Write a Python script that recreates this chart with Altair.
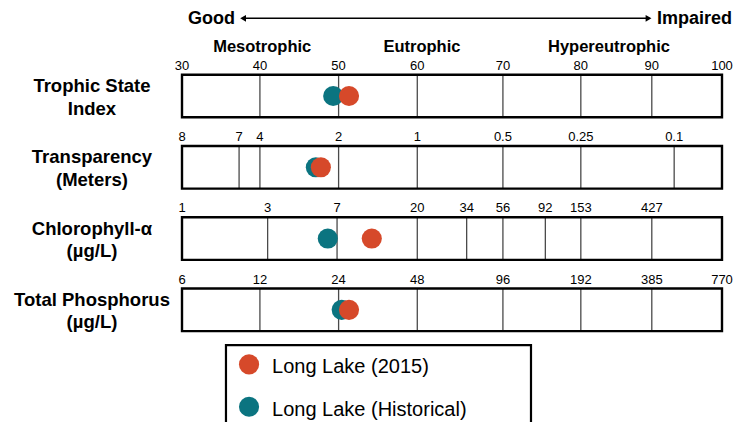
import altair as alt
import pandas as pd

# ---------------- data ----------------
row_titles = [["Trophic State", "Index"], ["Transparency", "(Meters)"],
              ["Chlorophyll-α", "(µg/L)"], ["Total Phosphorus", "(µg/L)"]]

tsi_labels = ["30", "40", "50", "60", "70", "80", "90", "100"]
tsi_pos = [30, 40.1, 50.3, 60.5, 71.6, 81.7, 90.9, 100]
secchi_labels = ["8", "7", "4", "2", "1", "0.5", "0.25", "0.1"]
secchi_pos = [30, 37.4, 40.1, 50.3, 60.5, 71.6, 81.7, 93.8]
chl_labels = ["1", "3", "7", "20", "34", "56", "92", "153", "427"]
chl_pos = [30, 41.1, 50.1, 60.5, 66.9, 71.6, 77.1, 81.7, 90.9]
tp_labels = ["6", "12", "24", "48", "96", "192", "385", "770"]
tp_pos = [30, 40.1, 50.3, 60.5, 71.6, 81.7, 90.9, 100]

series = ["Long Lake (Historical)", "Long Lake (2015)"]
colors = ["#0B7480", "#D6492A"]
val_hist = [49.6, 47.35, 48.9, 50.7]
val_2015 = [51.65, 48.0, 54.6, 51.65]

classes = ["Mesotrophic", "Eutrophic", "Hypereutrophic"]
class_pos = [40.4, 61.1, 85.35]

# ---------------- tables ----------------
scale_lo, scale_hi = 30, 100
half = 0.299
XS = alt.Scale(domain=[7.444, 102.593], nice=False, zero=False)
YS = alt.Scale(domain=[-1.2347, 4.574], nice=False, zero=False, reverse=True)
FONT = "Liberation Sans"

ticks = []
for r, (labs, poss) in enumerate([(tsi_labels, tsi_pos), (secchi_labels, secchi_pos),
                                  (chl_labels, chl_pos), (tp_labels, tp_pos)]):
    for l, p in zip(labs, poss):
        ticks.append({"r": r, "label": l, "x": p, "top": r - half, "bot": r + half,
                      "inner": scale_lo < p < scale_hi})
ticks = pd.DataFrame(ticks)
inner = ticks[ticks["inner"]]

boxes = pd.DataFrame({"r": range(4), "x": [scale_lo] * 4, "x2": [scale_hi] * 4,
                      "top": [i - half for i in range(4)], "bot": [i + half for i in range(4)],
                      "title": row_titles, "tx": [18.33] * 4})

pts = []
for s, vals in zip(series, [val_hist, val_2015]):
    for r, v in enumerate(vals):
        pts.append({"r": r, "x": v, "series": s})
pts = pd.DataFrame(pts)

cls = pd.DataFrame({"x": class_pos, "r": [-0.613] * 3, "t": classes})

X = lambda f: alt.X(f, scale=XS, axis=None)
Y = lambda f: alt.Y(f, scale=YS, axis=None)
color = alt.Color("series:N", scale=alt.Scale(domain=series, range=colors), legend=None)

box_fill = alt.Chart(boxes).mark_rect(fill="white").encode(
    x=X("x:Q"), x2="x2", y=Y("top:Q"), y2="bot")
inner_lines = alt.Chart(inner).mark_rule(color="#4a4a4a", strokeWidth=1.3).encode(
    x=X("x:Q"), y=Y("top:Q"), y2="bot")
box_line = alt.Chart(boxes).mark_rect(fill=None, stroke="black", strokeWidth=2.4).encode(
    x=X("x:Q"), x2="x2", y=Y("top:Q"), y2="bot")
tick_text = alt.Chart(ticks).mark_text(font=FONT, fontSize=13, baseline="alphabetic",
                                       dy=-5, color="black").encode(
    x=X("x:Q"), y=Y("top:Q"), text="label:N")
row_text = alt.Chart(boxes).mark_text(font=FONT, fontSize=18.5, fontWeight="bold",
                                      baseline="alphabetic", dy=-4, lineHeight=22.5,
                                      align="center", color="black").encode(
    x=X("tx:Q"), y=Y("r:Q"), text="title")
class_text = alt.Chart(cls).mark_text(font=FONT, fontSize=16.5, fontWeight="bold",
                                      baseline="alphabetic", color="black").encode(
    x=X("x:Q"), y=Y("r:Q"), text="t:N")

points = alt.Chart(pts).mark_circle(size=405, opacity=1).encode(
    x=X("x:Q"), y=Y("r:Q"), color=color)

# arrow Good <-> Impaired
ends = pd.DataFrame({"x": [37.92], "x2": [90.48], "r": [-1.090]})
arrow = alt.Chart(ends).mark_rule(color="black", strokeWidth=1.6).encode(
    x=X("x:Q"), x2="x2", y=Y("r:Q"))
heads = pd.DataFrame({"x": [37.92, 90.48], "r": [-1.090, -1.090],
                      "shape": ["triangle-left", "triangle-right"]})
arrow_heads = alt.Chart(heads).mark_point(filled=True, size=45, color="black", opacity=1).encode(
    x=X("x:Q"), y=Y("r:Q"),
    shape=alt.Shape("shape:N", scale=None, legend=None))
ends_text = pd.DataFrame({"x": [36.87, 91.58], "r": [-1.010, -1.010],
                          "t": ["Good", "Impaired"]})
good = alt.Chart(ends_text.iloc[[0]]).mark_text(font=FONT, fontSize=18, fontWeight="bold",
                                                 align="right", baseline="alphabetic",
                                                 color="black").encode(
    x=X("x:Q"), y=Y("r:Q"), text="t:N")
bad = alt.Chart(ends_text.iloc[[1]]).mark_text(font=FONT, fontSize=18, fontWeight="bold",
                                                align="left", baseline="alphabetic",
                                                color="black").encode(
    x=X("x:Q"), y=Y("r:Q"), text="t:N")

# legend (drawn box)
leg_box = pd.DataFrame({"x": [35.70], "x2": [75.24], "top": [3.494], "bot": [5.0]})
legend_box = alt.Chart(leg_box).mark_rect(fill="white", stroke="black", strokeWidth=2.2).encode(
    x=X("x:Q"), x2="x2", y=Y("top:Q"), y2="bot")
leg = pd.DataFrame({"series": series[::-1], "x": [38.69, 38.69], "tx": [41.67, 41.67],
                    "r": [3.766, 4.360]})
legend_pts = alt.Chart(leg).mark_circle(size=405, opacity=1).encode(
    x=X("x:Q"), y=Y("r:Q"), color=color)
legend_txt = alt.Chart(leg).mark_text(font=FONT, fontSize=20, align="left",
                                      baseline="alphabetic", dy=9, color="black").encode(
    x=X("tx:Q"), y=Y("r:Q"), text="series:N")

chart = alt.layer(
    box_fill, inner_lines, box_line, tick_text, row_text, class_text, points,
    arrow, arrow_heads, good, bad, legend_box, legend_pts, legend_txt
).properties(width=734, height=414, padding=0, autosize="none").configure_view(stroke=None)

chart.save("out.html", embed_options={"renderer": "svg", "actions": False})
